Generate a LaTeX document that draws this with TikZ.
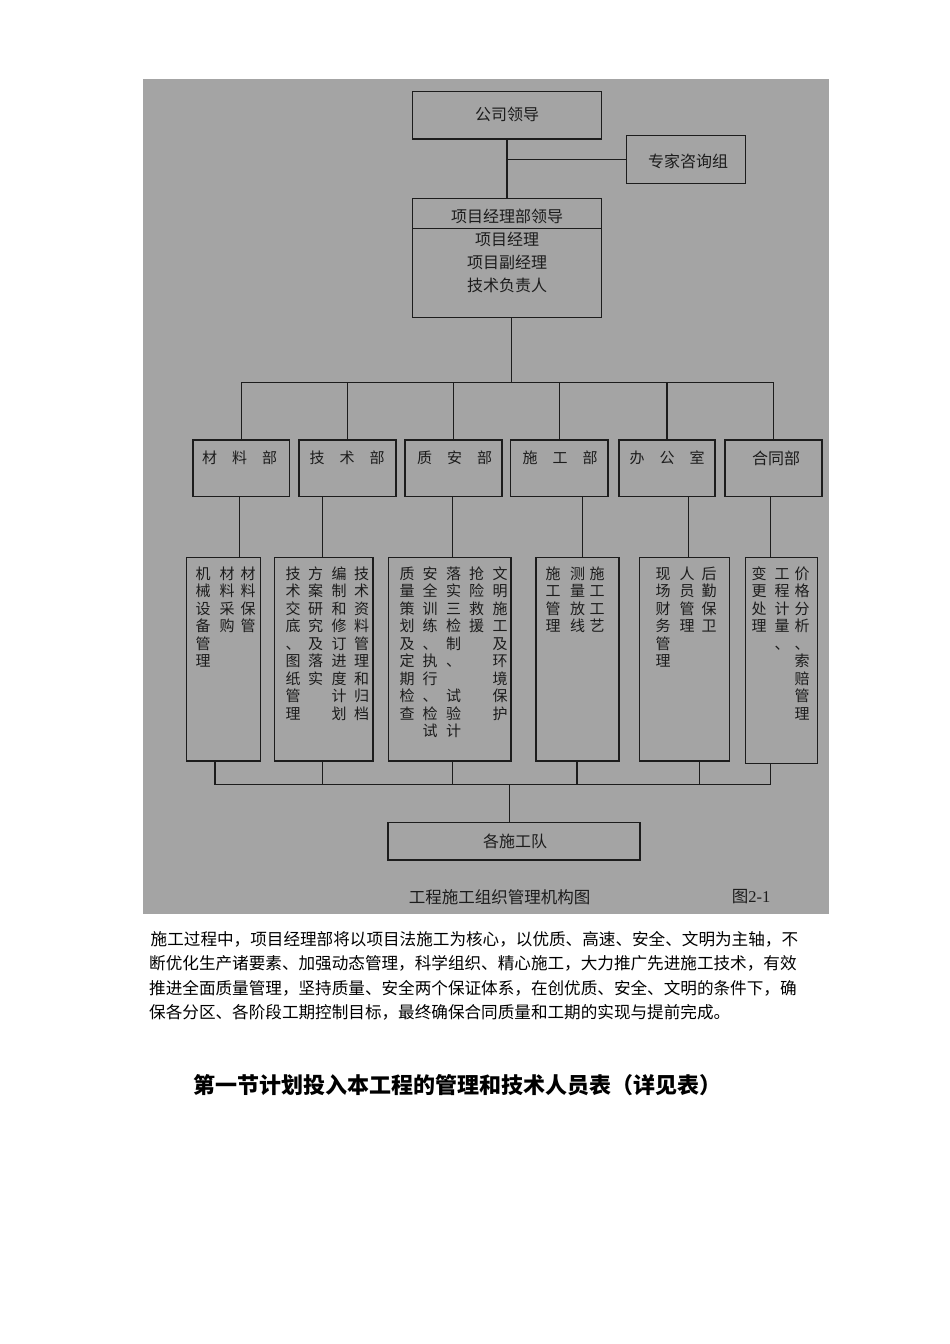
\documentclass[tikz,border=0pt]{standalone}
\usepackage{fontspec}
\setmainfont{Liberation Serif}
\newfontfamily\cjk{Noto Sans CJK SC}
\definecolor{bggray}{RGB}{164,164,164}
\definecolor{ink}{RGB}{28,28,28}
\makeatletter
\newcommand\vst[1]{\vbox{\baselineskip=17.5pt\lineskiplimit=-100pt\lineskip=0pt\vst@#1\@nil}}
\def\vst@#1#2\@nil{\hbox to 15pt{\vrule height 13pt depth 2pt width 0pt\hss#1\hss}\ifx\relax#2\relax\else\vst@#2\@nil\fi}
\makeatother
\def\kong{}
\tikzset{
  box/.style={draw=ink, line width=1.2pt, rectangle, inner sep=0pt},
  lnk/.style={draw=ink, line width=1.2pt},
  lbl/.style={text=ink, font=\cjk\fontsize{16}{18}\selectfont, inner sep=0pt},
  dlbl/.style={text=ink, font=\cjk\fontsize{15}{18}\selectfont, inner sep=0pt},
  vcol/.style={text=ink, font=\cjk\fontsize{15}{17.5}\selectfont, inner sep=0pt, anchor=north},
  para/.style={text=black, font=\cjk\fontsize{16.6}{20}\selectfont, inner sep=0pt, anchor=west},
  dept/.style={box, minimum height=56.7pt},
  low/.style={box, minimum height=203.3pt},
}
\begin{document}
\begin{tikzpicture}[x=1pt,y=-1pt]
\useasboundingbox (0,0) rectangle (950,1344);
\fill[white] (0,0) rectangle (950,1344);
\fill[bggray] (143,79) rectangle (829,914);

% top
\node[box, minimum width=188.6pt, minimum height=47.3pt] (gs) at (507,115.35) {};
\node[lbl] (gsT) at (507,114.5) {公司领导};
\node[box, minimum width=119pt, minimum height=47.6pt] (zj) at (686.2,159.5) {};
\node[lbl] (zjT) at (688,161.5) {专家咨询组};
\node[box, minimum width=188.6pt, minimum height=118.6pt] (xm) at (507,258) {};
\coordinate (dv) at (507,228.7);
\draw[lnk] (xm.west |- dv) -- (xm.east |- dv);
\node[lbl] (xm1) at (507,216.7) {项目经理部领导};
\node[lbl] (xm2) at (507,239) {项目经理};
\node[lbl] (xm3) at (507,262.3) {项目副经理};
\node[lbl] (xm4) at (507,285) {技术负责人};

\draw[lnk] (gs.south) -- (xm.north);
\draw[lnk] (zj.west) -- (zj.west -| gs.south);

% departments
\node[dept, minimum width=96.6pt] (d1) at (241.2,468.3) {};
\node[dept, minimum width=97pt] (d2) at (347.5,468.3) {};
\node[dept, minimum width=97pt] (d3) at (453.5,468.3) {};
\node[dept, minimum width=97.3pt] (d4) at (559.3,468.3) {};
\node[dept, minimum width=96pt] (d5) at (667,468.3) {};
\node[dept, minimum width=97pt] (d6) at (773.5,468.3) {};
\node[dlbl] (d1T) at (239.5,458) {材　料　部};
\node[dlbl] (d2T) at (347,458) {技　术　部};
\node[dlbl] (d3T) at (454.5,458) {质　安　部};
\node[dlbl] (d4T) at (560,458) {施　工　部};
\node[dlbl] (d5T) at (667,458) {办　公　室};
\node[lbl] (d6T) at (776,458) {合同部};

\coordinate (bT) at (511.7,382.7);
\draw[lnk] (xm.south -| bT) -- (bT);
\draw[lnk] (d1.north |- bT) -- (d6.north |- bT);
\foreach \i in {1,...,6} \draw[lnk] (d\i.north) -- (d\i.north |- bT);

% lower boxes
\node[low, minimum width=73.6pt] (l1) at (223.5,659.35) {};
\node[low, minimum width=98.3pt] (l2) at (323.85,659.35) {};
\node[low, minimum width=122.7pt] (l3) at (449.65,659.35) {};
\node[low, minimum width=83pt] (l4) at (577.5,659.35) {};
\node[low, minimum width=89.6pt] (l5) at (684.5,659.35) {};
\node[box, minimum width=72pt, minimum height=205.6pt] (l6) at (781.7,660.5) {};

\coordinate (u1) at (239.3,0);
\coordinate (u2) at (322.3,0);
\coordinate (u3) at (452.5,0);
\coordinate (u4) at (582.3,0);
\coordinate (u5) at (688.3,0);
\coordinate (u6) at (770.7,0);
\foreach \i in {1,...,6} \draw[lnk] (d\i.south -| u\i) -- (l\i.north -| u\i);

% column texts
\node[vcol] (c11) at (248,566.2) {\vst{材料保管}};
\node[vcol] (c12) at (227,566.2) {\vst{材料采购}};
\node[vcol] (c13) at (203,566.2) {\vst{机械设备管理}};

\node[vcol] (c21) at (361.5,566.2) {\vst{技术资料管理和归档}};
\node[vcol] (c22) at (339,566.2) {\vst{编制和修订进度计划}};
\node[vcol] (c23) at (315.5,566.2) {\vst{方案研究及落实}};
\node[vcol] (c24) at (293,566.2) {\vst{技术交底、图纸管理}};

\node[vcol] (c31) at (500,566.2) {\vst{文明施工及环境保护}};
\node[vcol] (c32) at (476.5,566.2) {\vst{抢险救援}};
\node[vcol] (c33) at (453.5,566.2) {\vst{落实三检制、\kong 试验计}};
\node[vcol] (c34) at (430,566.2) {\vst{安全训练、执行、检试}};
\node[vcol] (c35) at (407,566.2) {\vst{质量策划及定期检查}};

\node[vcol] (c41) at (597,566.2) {\vst{施工工艺}};
\node[vcol] (c42) at (577.5,566.2) {\vst{测量放线}};
\node[vcol] (c43) at (553,566.2) {\vst{施工管理}};

\node[vcol] (c51) at (709,566.2) {\vst{后勤保卫}};
\node[vcol] (c52) at (687,566.2) {\vst{人员管理}};
\node[vcol] (c53) at (663,566.2) {\vst{现场财务管理}};

\node[vcol] (c61) at (802,566.2) {\vst{价格分析、索赔管理}};
\node[vcol] (c62) at (782,566.2) {\vst{工程计量、}};
\node[vcol] (c63) at (759,566.2) {\vst{变更处理}};

% bottom
\coordinate (w1) at (215,0);
\coordinate (w2) at (322.3,0);
\coordinate (w3) at (452.3,0);
\coordinate (w4) at (577,0);
\coordinate (w5) at (699.3,0);
\coordinate (w6) at (770.7,0);
\coordinate (bB) at (509.5,784.5);
\foreach \i in {1,...,6} \draw[lnk] (l\i.south -| w\i) -- (w\i |- bB);
\draw[lnk] (w1 |- bB) -- (w6 |- bB);
\node[box, minimum width=252pt, minimum height=37.7pt] (gd) at (514,841.15) {};
\node[lbl] (gdT) at (515,841) {各施工队};
\draw[lnk] (bB) -- (gd.north -| bB);

\node[text=ink, font=\cjk\fontsize{16.5}{18}\selectfont, inner sep=0pt] (cap) at (499.5,897) {工程施工组织管理机构图};
\node[text=ink, font=\fontsize{16.5}{18}\selectfont, inner sep=0pt, anchor=west] (fig) at (731.7,897) {{\cjk 图}2-1};

% paragraph
\node[para] (p1) at (150.5,939) {施工过程中，项目经理部将以项目法施工为核心，以优质、高速、安全、文明为主轴，不};
\node[para] (p2) at (149,963.5) {断优化生产诸要素、加强动态管理，科学组织、精心施工，大力推广先进施工技术，有效};
\node[para] (p3) at (149,988) {推进全面质量管理，坚持质量、安全两个保证体系，在创优质、安全、文明的条件下，确};
\node[para] (p4) at (149,1012.5) {保各分区、各阶段工期控制目标，最终确保合同质量和工期的实现与提前完成。};

\node[text=black, font=\cjk\bfseries\fontsize{22}{26}\selectfont, inner sep=0pt, anchor=west] (hd) at (193,1085) {第一节计划投入本工程的管理和技术人员表（详见表）};
\end{tikzpicture}
\end{document}
